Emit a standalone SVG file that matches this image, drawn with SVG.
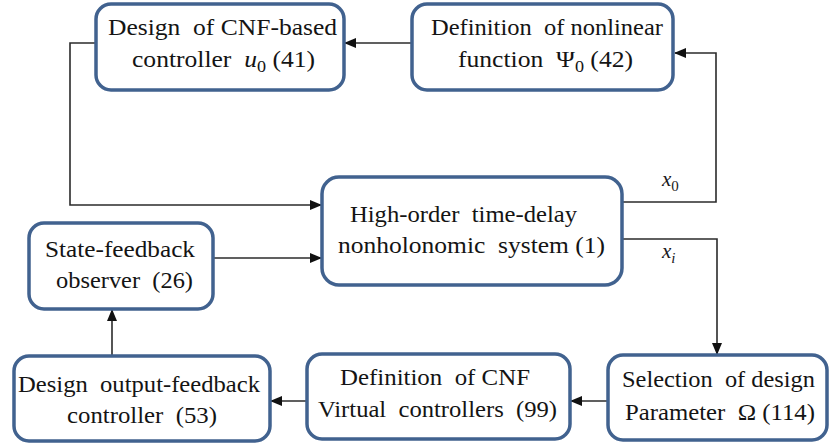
<svg xmlns="http://www.w3.org/2000/svg" width="830" height="446" viewBox="0 0 830 446">
  <style>
    .box { fill: #ffffff; stroke: #41628f; stroke-width: 3.5; }
    .lbl { font-family: "Times New Roman", Times, "Liberation Serif", "DejaVu Serif", serif; font-size: 24px; fill: #141414; white-space: pre; }
    .it { font-style: italic; }
    .sub { font-size: 17px; }
    .var { font-family: "Times New Roman", "Liberation Serif", "DejaVu Serif", serif; font-style: italic; font-size: 21px; fill: #1a1a1a; white-space: pre; }
    .wire { fill: none; stroke: #2b2b2b; stroke-width: 1.6; }
  </style>
  <defs>
    <marker id="head" markerUnits="userSpaceOnUse" markerWidth="12" markerHeight="12" viewBox="0 0 12 12" refX="11" refY="6" orient="auto">
      <path d="M0,1 L12,6 L0,11 Z" fill="#111111"/>
    </marker>
  </defs>

  <!-- connectors -->
  <g id="connectors">
    <path class="wire" d="M412,43 H345" marker-end="url(#head)"/>
    <path class="wire" d="M622,202 H716 V53 H675" marker-end="url(#head)"/>
    <path class="wire" d="M96,43 H70 V205 H321" marker-end="url(#head)"/>
    <path class="wire" d="M213,258 H321" marker-end="url(#head)"/>
    <path class="wire" d="M622,239 H717 V354" marker-end="url(#head)"/>
    <path class="wire" d="M608,401 H571" marker-end="url(#head)"/>
    <path class="wire" d="M307,401 H271" marker-end="url(#head)"/>
    <path class="wire" d="M112,356 V310" marker-end="url(#head)"/>
    <text class="var" x="662" y="186">x<tspan dy="5" font-style="normal" font-size="15">0</tspan></text>
    <text class="var" x="662" y="258">x<tspan dy="5" font-size="15">i</tspan></text>
  </g>

  <g id="cnf-controller">
    <rect class="box" x="96" y="4" width="248" height="86" rx="15"/>
    <text class="lbl" x="108" y="35" textLength="229" lengthAdjust="spacingAndGlyphs">Design  of CNF-based</text>
    <text class="lbl" x="132" y="67" textLength="183" lengthAdjust="spacingAndGlyphs">controller  <tspan class="it">u</tspan><tspan class="sub" dy="5">0</tspan><tspan dy="-5"> (41)</tspan></text>
  </g>

  <g id="nonlinear-function">
    <rect class="box" x="412" y="4" width="261" height="86" rx="15"/>
    <text class="lbl" x="431" y="35" textLength="232" lengthAdjust="spacingAndGlyphs">Definition  of nonlinear</text>
    <text class="lbl" x="458" y="67" textLength="175" lengthAdjust="spacingAndGlyphs">function  Ψ<tspan class="sub" dy="5">0</tspan><tspan dy="-5"> (42)</tspan></text>
  </g>

  <g id="system">
    <rect class="box" x="322" y="177" width="300" height="108" rx="17"/>
    <text class="lbl" x="350" y="222" textLength="227" lengthAdjust="spacingAndGlyphs">High-order  time-delay</text>
    <text class="lbl" x="338" y="253" textLength="267" lengthAdjust="spacingAndGlyphs">nonholonomic  system (1)</text>
  </g>

  <g id="observer">
    <rect class="box" x="29" y="223" width="184" height="86" rx="15"/>
    <text class="lbl" x="45" y="257" textLength="150" lengthAdjust="spacingAndGlyphs">State-feedback</text>
    <text class="lbl" x="56" y="288" textLength="137" lengthAdjust="spacingAndGlyphs">observer  (26)</text>
  </g>

  <g id="output-feedback">
    <rect class="box" x="14" y="356" width="256" height="85" rx="15"/>
    <text class="lbl" x="18" y="392" textLength="242" lengthAdjust="spacingAndGlyphs">Design  output-feedback</text>
    <text class="lbl" x="67" y="423" textLength="150" lengthAdjust="spacingAndGlyphs">controller  (53)</text>
  </g>

  <g id="virtual-controllers">
    <rect class="box" x="307" y="354" width="263" height="85" rx="15"/>
    <text class="lbl" x="340" y="385" textLength="190" lengthAdjust="spacingAndGlyphs">Definition  of CNF</text>
    <text class="lbl" x="318" y="417" textLength="239" lengthAdjust="spacingAndGlyphs">Virtual  controllers  (99)</text>
  </g>

  <g id="design-parameter">
    <rect class="box" x="608" y="355" width="219" height="85" rx="15"/>
    <text class="lbl" x="622" y="387" textLength="193" lengthAdjust="spacingAndGlyphs">Selection  of design</text>
    <text class="lbl" x="625" y="420" textLength="190" lengthAdjust="spacingAndGlyphs">Parameter  Ω (114)</text>
  </g>
</svg>
